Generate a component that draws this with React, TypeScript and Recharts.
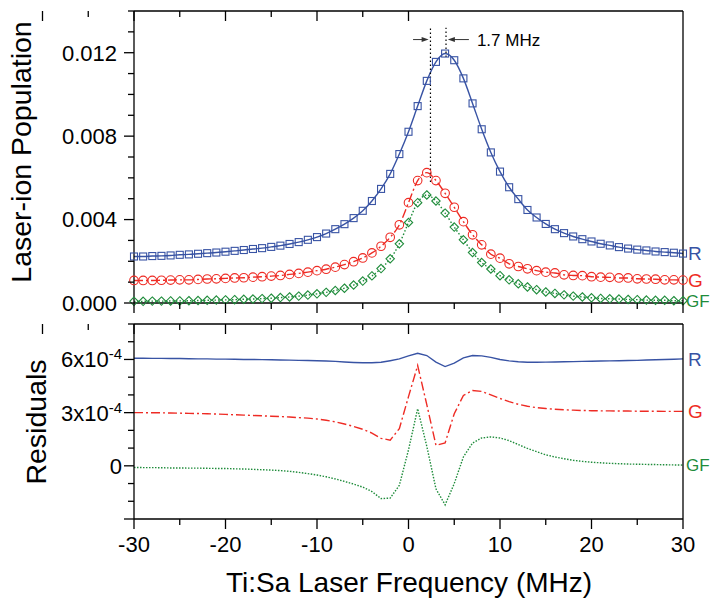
import React from "react";
import { ComposedChart, Line, XAxis, YAxis, ReferenceLine, ReferenceDot, Customized } from "recharts";

// detuning, MHz
const freq = [
  -30, -29, -28, -27, -26, -25, -24, -23, -22, -21, -20, -19, -18, -17, -16, -15, -14, -13, -12, -11,
  -10, -9, -8, -7, -6, -5, -4, -3, -2, -1, 0, 1, 2, 3, 4, 5, 6, 7, 8, 9, 10, 11, 12, 13, 14, 15, 16, 17,
  18, 19, 20, 21, 22, 23, 24, 25, 26, 27, 28, 29, 30,
];

// laser-ion population, units of 1e-3
const popR = [
  2.23, 2.23, 2.25, 2.26, 2.28, 2.31, 2.33, 2.36, 2.39, 2.42, 2.46, 2.5, 2.54, 2.59, 2.63, 2.69, 2.75, 2.83, 2.92, 3.03,
  3.16, 3.33, 3.54, 3.78, 4.07, 4.42, 4.89, 5.47, 6.19, 7.14, 8.21, 9.44, 10.65, 11.56, 11.96, 11.64, 10.77, 9.57, 8.33, 7.22,
  6.3, 5.55, 4.98, 4.46, 4.1, 3.79, 3.54, 3.35, 3.19, 3.06, 2.95, 2.84, 2.76, 2.68, 2.61, 2.56, 2.52, 2.47, 2.44, 2.41, 2.37,
];
const popG = [
  1.08, 1.08, 1.08, 1.09, 1.1, 1.11, 1.11, 1.13, 1.15, 1.16, 1.18, 1.2, 1.21, 1.24, 1.26, 1.29, 1.32, 1.37, 1.42, 1.48,
  1.55, 1.62, 1.72, 1.84, 1.98, 2.16, 2.4, 2.72, 3.15, 3.75, 4.81, 5.87, 6.25, 5.87, 5.26, 4.59, 3.9, 3.27, 2.79, 2.34,
  2.15, 1.88, 1.75, 1.64, 1.55, 1.48, 1.44, 1.35, 1.32, 1.31, 1.26, 1.24, 1.23, 1.2, 1.2, 1.16, 1.15, 1.14, 1.11, 1.11, 1.1,
];
const popGF = [
  0.08, 0.08, 0.09, 0.09, 0.1, 0.1, 0.11, 0.12, 0.13, 0.14, 0.15, 0.16, 0.18, 0.19, 0.21, 0.23, 0.26, 0.29, 0.33, 0.38,
  0.44, 0.51, 0.6, 0.71, 0.86, 1.05, 1.3, 1.65, 2.12, 2.84, 3.86, 4.81, 5.18, 4.89, 4.31, 3.64, 3.03, 2.42, 1.94, 1.63,
  1.31, 1.11, 0.92, 0.77, 0.64, 0.53, 0.46, 0.39, 0.33, 0.29, 0.25, 0.22, 0.2, 0.19, 0.17, 0.16, 0.14, 0.13, 0.13, 0.11, 0.11,
];

// residuals, units of 1e-4 (curves offset as in the plot)
const resR = [
  6.07, 6.07, 6.06, 6.06, 6.05, 6.05, 6.04, 6.03, 6.03, 6.02, 6.02, 6.01, 6.0, 6.0, 5.99, 5.98, 5.97, 5.96, 5.95, 5.94,
  5.93, 5.91, 5.89, 5.86, 5.83, 5.81, 5.81, 5.84, 5.93, 6.03, 6.2, 6.35, 6.22, 5.85, 5.6, 5.79, 6.09, 6.22, 6.2, 6.12,
  6.0, 5.92, 5.87, 5.84, 5.84, 5.85, 5.86, 5.87, 5.88, 5.89, 5.9, 5.91, 5.92, 5.93, 5.94, 5.95, 5.97, 5.98, 6.0, 6.01, 6.03,
];
const resG = [
  3.0, 3.0, 2.99, 2.99, 2.98, 2.97, 2.96, 2.95, 2.94, 2.92, 2.9, 2.88, 2.86, 2.84, 2.82, 2.8, 2.78, 2.75, 2.72, 2.69,
  2.64, 2.57, 2.48, 2.36, 2.22, 2.06, 1.85, 1.55, 1.45, 2.1, 3.9, 5.66, 3.45, 1.16, 1.29, 2.94, 3.97, 4.25, 4.2, 4.0,
  3.8, 3.62, 3.47, 3.36, 3.28, 3.23, 3.19, 3.16, 3.14, 3.12, 3.11, 3.1, 3.1, 3.09, 3.09, 3.08, 3.08, 3.08, 3.07, 3.07, 3.07,
];
const resGF = [
  -0.09, -0.1, -0.1, -0.11, -0.12, -0.12, -0.13, -0.13, -0.14, -0.15, -0.15, -0.17, -0.18, -0.2, -0.22, -0.24, -0.27, -0.31, -0.37, -0.44,
  -0.52, -0.62, -0.74, -0.88, -1.03, -1.2, -1.45, -1.85, -1.82, -1.1, 0.9, 3.22, 1.1, -1.3, -2.2, -1.0, 0.5, 1.28, 1.57, 1.63,
  1.57, 1.42, 1.2, 0.98, 0.8, 0.62, 0.5, 0.4, 0.31, 0.25, 0.2, 0.17, 0.14, 0.12, 0.1, 0.09, 0.08, 0.07, 0.06, 0.05, 0.04,
];

const xTicks = [-30, -25, -20, -15, -10, -5, 0, 5, 10, 15, 20, 25, 30];
const popTicks = [0, 1, 2, 3, 4, 5, 6, 7, 8, 9, 10, 11, 12, 13, 14];
const resTicks = [-3, -2, -1, 0, 1, 2, 3, 4, 5, 6, 7, 8];

const FONT = "'Liberation Sans', Arial, Helvetica, sans-serif";
const BLUE = "#3853a4";
const RED = "#ee2b24";
const GREEN = "#1f8c3b";
const MAJOR = 10;
const MINOR = 6;

const topData = freq.map((f, i) => ({ f, r: popR[i], g: popG[i], gf: popGF[i] }));
const botData = freq.map((f, i) => ({ f, r: resR[i], g: resG[i], gf: resGF[i] }));

const xTick = (dir: number, showLabel: boolean) => (p: any) => {
  const v = p.payload.value;
  const major = v % 10 === 0;
  return (
    <g>
      <line x1={p.x} x2={p.x} y1={p.y} y2={p.y + dir * (major ? MAJOR : MINOR)} stroke="#000" strokeWidth={1.3} />
      {showLabel && major && (
        <text x={p.x} y={p.y + 33} textAnchor="middle" fontSize={22} fontFamily={FONT} fill="#000">
          {v}
        </text>
      )}
    </g>
  );
};

const popTick = (showLabel: boolean) => (p: any) => {
  const v = p.payload.value;
  const major = v % 4 === 0;
  return (
    <g>
      <line x1={p.x} x2={p.x - (major ? MAJOR : MINOR)} y1={p.y} y2={p.y} stroke="#000" strokeWidth={1.3} />
      {showLabel && major && (
        <text x={p.x - 17} y={p.y} dy="0.36em" textAnchor="end" fontSize={22} fontFamily={FONT} fill="#000">
          {(v / 1000).toFixed(3)}
        </text>
      )}
    </g>
  );
};

const resTick = (showLabel: boolean) => (p: any) => {
  const v = p.payload.value;
  const major = v % 3 === 0;
  let label: React.ReactNode = null;
  if (showLabel && v === 0) label = "0";
  if (showLabel && v > 0 && major)
    label = [
      <tspan key="m">{`${v}x10`}</tspan>,
      <tspan key="e" dy={-8} fontSize={15}>
        -4
      </tspan>,
    ];
  return (
    <g>
      <line x1={p.x} x2={p.x - (major ? MAJOR : MINOR)} y1={p.y} y2={p.y} stroke="#000" strokeWidth={1.3} />
      {label && (
        <text x={p.x - 12} y={p.y} dy="0.36em" textAnchor="end" fontSize={22} fontFamily={FONT} fill="#000">
          {label}
        </text>
      )}
    </g>
  );
};

const Square = (p: any) =>
  p.cx == null ? null : (
    <rect key={`s${p.index}`} x={p.cx - 3.5} y={p.cy - 3.5} width={7} height={7} fill="none" stroke={BLUE} strokeWidth={1.1} />
  );
const Circle = (p: any) =>
  p.cx == null ? null : <circle key={`c${p.index}`} cx={p.cx} cy={p.cy} r={4.3} fill="none" stroke={RED} strokeWidth={1.1} />;
const Diamond = (p: any) =>
  p.cx == null ? null : (
    <path
      key={`d${p.index}`}
      d={`M${p.cx},${p.cy - 4.2}L${p.cx + 4.2},${p.cy}L${p.cx},${p.cy + 4.2}L${p.cx - 4.2},${p.cy}Z`}
      fill="none"
      stroke={GREEN}
      strokeWidth={1.1}
    />
  );

const Arrow = (label?: string) => (p: any) => {
  const { x1, y1, x2, y2 } = p;
  const d = x2 > x1 ? 1 : -1;
  return (
    <g>
      <line x1={x1} y1={y1} x2={x2 - d * 5} y2={y2} stroke="#333" strokeWidth={1} />
      <path d={`M${x2},${y2}L${x2 - d * 7},${y2 - 2.5}L${x2 - d * 7},${y2 + 2.5}Z`} fill="#333" />
      {label && (
        <text x={x1 + 8} y={y1} dy="0.36em" fontSize={17} fontFamily={FONT} fill="#000">
          {label}
        </text>
      )}
    </g>
  );
};

const endLabel = (text: string, color: string, size = 19, offset = 5) => ({
  value: text,
  position: "right" as const,
  offset,
  fill: color,
  fontSize: size,
  fontFamily: FONT,
});

const axisLine = { stroke: "#000", strokeWidth: 1.3 };

export default function App() {
  return (
    <div style={{ position: "absolute", left: 0, top: 0, width: 710, height: 601, background: "#fff" }}>
      <div style={{ position: "absolute", left: 0, top: 0 }}>
        <ComposedChart width={710} height={320} data={topData} margin={{ top: 0, right: 0, bottom: 0, left: 0 }}>
          <XAxis dataKey="f" type="number" domain={[-30, 30]} ticks={xTicks} interval={0} height={17}
            axisLine={axisLine} tickLine={false} tickSize={0} tickMargin={0} tick={xTick(1, false)} />
          <XAxis xAxisId="top" orientation="top" type="number" domain={[-30, 30]} ticks={xTicks} interval={0} height={11}
            axisLine={axisLine} tickLine={false} tickSize={0} tickMargin={0} tick={xTick(1, false)} />
          <YAxis type="number" domain={[0, 14]} ticks={popTicks} interval={0} width={134}
            axisLine={axisLine} tickLine={false} tickSize={0} tickMargin={0} tick={popTick(true)} />
          <YAxis yAxisId="right" orientation="right" type="number" domain={[0, 14]} ticks={popTicks} interval={0} width={27}
            axisLine={axisLine} tickLine={false} tickSize={0} tickMargin={0} tick={popTick(false)} />
          <Line dataKey="r" type="monotone" stroke={BLUE} strokeWidth={1.4} dot={Square} activeDot={false} isAnimationActive={false} />
          <Line dataKey="g" type="monotone" stroke={RED} strokeWidth={1.4} strokeDasharray="9 3 2 3" dot={Circle} activeDot={false} isAnimationActive={false} />
          <Line dataKey="gf" type="monotone" stroke={GREEN} strokeWidth={1.4} strokeDasharray="1.5 2" dot={Diamond} activeDot={false} isAnimationActive={false} />
          <ReferenceLine segment={[{ x: 2.4, y: 5.8 }, { x: 2.4, y: 13.2 }]} stroke="#000" strokeWidth={1.2} strokeDasharray="1.5 2.5" />
          <ReferenceLine segment={[{ x: 4.1, y: 11.8 }, { x: 4.1, y: 13.2 }]} stroke="#000" strokeWidth={1.2} strokeDasharray="1.5 2.5" />
          <ReferenceLine segment={[{ x: 0.5, y: 12.63 }, { x: 2.2, y: 12.63 }]} shape={Arrow()} />
          <ReferenceLine segment={[{ x: 6.6, y: 12.63 }, { x: 4.3, y: 12.63 }]} shape={Arrow("1.7 MHz")} />
          <ReferenceDot x={30} y={popR[60]} r={0.01} fill="none" stroke="none" label={endLabel("R", BLUE)} />
          <ReferenceDot x={30} y={popG[60]} r={0.01} fill="none" stroke="none" label={endLabel("G", RED)} />
          <ReferenceDot x={30} y={popGF[60]} r={0.01} fill="none" stroke="none" label={endLabel("GF", GREEN, 17, 3)} />
          <Customized
            component={
              <text x={31} y={152} textAnchor="middle" fontSize={28.5} fontFamily={FONT} fill="#000" transform="rotate(-90 31 152)">
                Laser-ion Population
              </text>
            }
          />
        </ComposedChart>
      </div>
      <div style={{ position: "absolute", left: 0, top: 320 }}>
        <ComposedChart width={710} height={281} data={botData} margin={{ top: 0, right: 0, bottom: 0, left: 0 }}>
          <XAxis dataKey="f" type="number" domain={[-30, 30]} ticks={xTicks} interval={0} height={82}
            axisLine={axisLine} tickLine={false} tickSize={0} tickMargin={0} tick={xTick(1, true)} />
          <XAxis xAxisId="top" orientation="top" type="number" domain={[-30, 30]} ticks={xTicks} interval={0} height={4}
            axisLine={axisLine} tickLine={false} tickSize={0} tickMargin={0} tick={xTick(1, false)} />
          <YAxis type="number" domain={[-3, 8]} ticks={resTicks} interval={0} width={134}
            axisLine={axisLine} tickLine={false} tickSize={0} tickMargin={0} tick={resTick(true)} />
          <YAxis yAxisId="right" orientation="right" type="number" domain={[-3, 8]} ticks={resTicks} interval={0} width={27}
            axisLine={axisLine} tickLine={false} tickSize={0} tickMargin={0} tick={resTick(false)} />
          <Line dataKey="r" type="linear" stroke={BLUE} strokeWidth={1.4} dot={false} activeDot={false} isAnimationActive={false} />
          <Line dataKey="g" type="linear" stroke={RED} strokeWidth={1.4} strokeDasharray="9 3 2 3" dot={false} activeDot={false} isAnimationActive={false} />
          <Line dataKey="gf" type="linear" stroke={GREEN} strokeWidth={1.4} strokeDasharray="1.5 1.5" dot={false} activeDot={false} isAnimationActive={false} />
          <ReferenceDot x={30} y={resR[60]} r={0.01} fill="none" stroke="none" label={endLabel("R", BLUE)} />
          <ReferenceDot x={30} y={resG[60]} r={0.01} fill="none" stroke="none" label={endLabel("G", RED)} />
          <ReferenceDot x={30} y={resGF[60]} r={0.01} fill="none" stroke="none" label={endLabel("GF", GREEN, 17, 3)} />
          <Customized
            component={
              <g>
                <text x={46} y={102} textAnchor="middle" fontSize={28.5} fontFamily={FONT} fill="#000" transform="rotate(-90 46 102)">
                  Residuals
                </text>
                <text x={409} y={272} textAnchor="middle" fontSize={28} fontFamily={FONT} fill="#000">
                  Ti:Sa Laser Frequency (MHz)
                </text>
              </g>
            }
          />
        </ComposedChart>
      </div>
    </div>
  );
}
